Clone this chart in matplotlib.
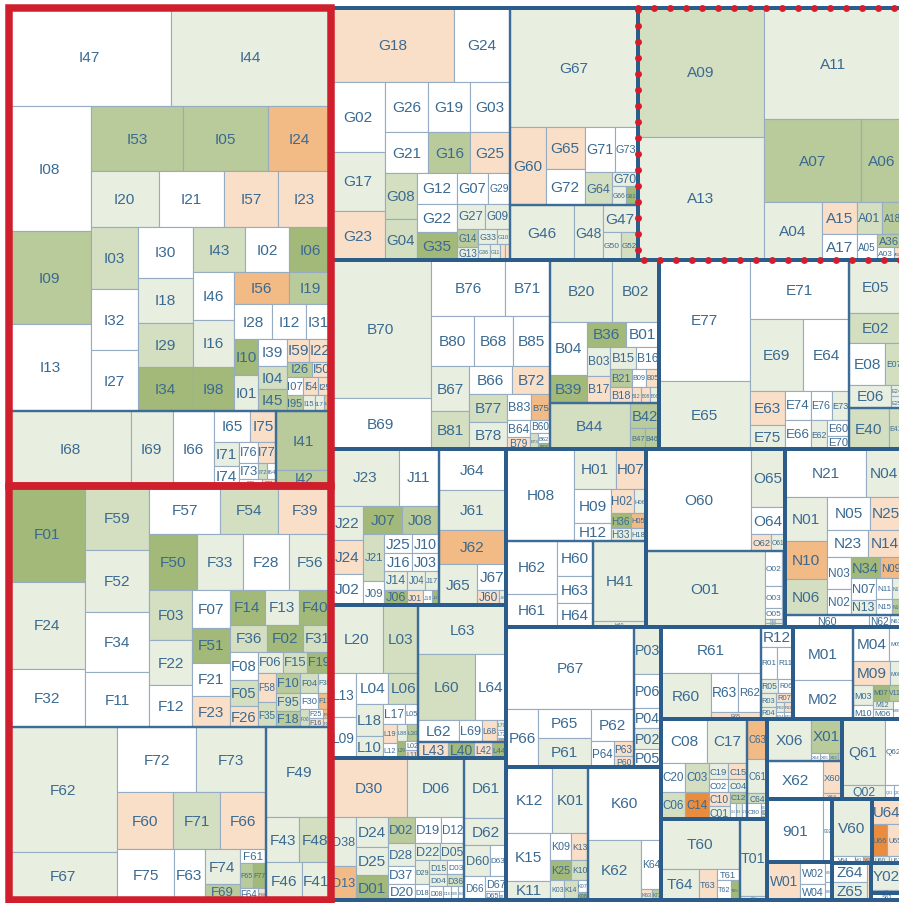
"""Nested treemap of codes grouped by letter, tiled row by row from the sizes."""
import matplotlib
matplotlib.use("Agg")
import matplotlib.pyplot as plt
from matplotlib.patches import Rectangle
from matplotlib.textpath import TextPath
from matplotlib.font_manager import FontProperties

# ---------------------------------------------------------------- data
# each list is one sub-block: (code, size, colour class)
I_a = [("I47", 15000, "w"), ("I44", 14900, "g1"), ("I08", 9640, "w"), ("I09", 7110, "g3"),
       ("I13", 6715, "w"), ("I53", 5670, "g3"), ("I05", 5170, "g3"), ("I24", 3840, "o2"),
       ("I20", 3630, "g1"), ("I21", 3465, "w"), ("I57", 2915, "o1"), ("I23", 2805, "o1"),
       ("I03", 2760, "g2"), ("I32", 2760, "w"), ("I27", 2714, "w"), ("I30", 2600, "w"),
       ("I18", 2330, "g1"), ("I29", 2280, "g2"), ("I34", 2280, "g4"), ("I43", 2244, "g2"),
       ("I02", 1848, "w"), ("I06", 1804, "g4"), ("I46", 1840, "w"), ("I16", 1840, "g1"),
       ("I98", 1720, "g4"), ("I56", 1640, "o2"), ("I19", 1270, "g3"), ("I28", 1260, "w"),
       ("I12", 1120, "w"), ("I31", 816, "w"), ("I10", 805, "g4"), ("I01", 805, "g1"),
       ("I39", 728, "w"), ("I04", 644, "g2"), ("I45", 588, "g3"), ("I59", 484, "o1"),
       ("I22", 462, "o1"), ("I26", 375, "g3"), ("I50", 270, "o1"), ("I07", 288, "w"),
       ("I95", 240, "g3"), ("I54", 252, "o1"), ("I25", 234, "o1"), ("I15", 165, "g1"),
       ("I17", 135, "g1"), ("I11", 60, "o2"), ("I14", 45, "g1")]
I_b = [("I68", 8700, "g1"), ("I69", 3000, "g1"), ("I66", 2925, "w"), ("I65", 1064, "w"),
       ("I75", 756, "o1"), ("I71", 598, "g1"), ("I74", 483, "w"), ("I76", 378, "w"),
       ("I77", 378, "o1"), ("I73", 300, "w"), ("I72", 140, "g2"), ("I64", 140, "w"),
       ("I79", 150, "w"), ("I78", 100, "o1")]
I_c = [("I41", 3070, "g3"), ("I42", 830, "g3")]

F_a = [("F01", 6880, "g4"), ("F24", 6290, "g1"), ("F32", 4220, "w"), ("F59", 3840, "g2"),
       ("F52", 3720, "g1"), ("F34", 3660, "w"), ("F11", 3350, "w"), ("F57", 3170, "w"),
       ("F54", 2580, "g2"), ("F39", 2350, "o1"), ("F50", 2530, "g4"), ("F33", 2475, "g1"),
       ("F28", 2420, "w"), ("F56", 2255, "g1"), ("F03", 2010, "g2"), ("F22", 1800, "g1"),
       ("F12", 1680, "w"), ("F07", 1370, "w"), ("F51", 1260, "g4"), ("F21", 1180, "w"),
       ("F23", 1150, "o1"), ("F14", 1156, "g4"), ("F13", 1120, "g1"), ("F40", 1054, "g4"),
       ("F36", 936, "g2"), ("F02", 910, "g4"), ("F31", 702, "g2"), ("F08", 756, "w"),
       ("F05", 675, "g2"), ("F26", 567, "o1"), ("F06", 504, "g1"), ("F15", 504, "g2"),
       ("F19", 483, "g4"), ("F58", 504, "o1"), ("F35", 450, "g2"), ("F10", 437, "g3"),
       ("F95", 414, "g2"), ("F18", 368, "g3"), ("F04", 323, "g2"), ("F38", 247, "g1"),
       ("F30", 272, "w"), ("F17", 208, "o2"), ("F00", 162, "g2"), ("F25", 117, "w"),
       ("F16", 117, "o1"), ("F09", 72, "o2"), ("F20", 72, "o1")]
F_b = [("F62", 12790, "g1"), ("F67", 4890, "g1"), ("F72", 4790, "w"), ("F73", 4284, "g1"),
       ("F60", 3024, "o1"), ("F71", 2520, "g2"), ("F66", 2520, "o1"), ("F75", 2700, "w"),
       ("F63", 1500, "w"), ("F74", 1156, "g1"), ("F69", 510, "g3"), ("F61", 338, "w"),
       ("F65", 312, "g3"), ("F77", 312, "g4"), ("F64", 216, "w"), ("F68", 96, "o1")]
F_c = [("F49", 5456, "g1"), ("F43", 1395, "g1"), ("F48", 1395, "g2"), ("F46", 1258, "g1"),
       ("F41", 1036, "g1")]

G_a = [("G18", 8600, "o1"), ("G24", 3850, "w"), ("G02", 3550, "w"), ("G17", 3020, "g1"),
       ("G23", 2490, "o1"), ("G26", 2058, "w"), ("G19", 2009, "w"), ("G03", 1862, "w"),
       ("G21", 1680, "w"), ("G16", 1640, "g3"), ("G25", 1520, "o1"), ("G08", 1395, "g2"),
       ("G04", 1240, "g2"), ("G12", 1170, "w"), ("G07", 900, "w"), ("G29", 630, "w"),
       ("G22", 1092, "w"), ("G35", 1053, "g4"), ("G27", 648, "g1"), ("G09", 576, "g1"),
       ("G14", 360, "g3"), ("G13", 260, "g1"), ("G33", 270, "g1"), ("G10", 180, "g1"),
       ("G36", 176, "g1"), ("G11", 160, "g1"), ("G31", 72, "o1"), ("G32", 72, "o1")]
G_b = [("G67", 14400, "g1"), ("G60", 2664, "o1"), ("G65", 1560, "o1"), ("G72", 1326, "w"),
       ("G71", 1260, "w"), ("G73", 966, "w"), ("G64", 864, "g2"), ("G70", 364, "g1"),
       ("G66", 252, "g1"), ("G61", 216, "g4")]
G_c = [("G46", 3300, "g1"), ("G48", 1512, "g1"), ("G47", 858, "g1"), ("G50", 476, "g1"),
       ("G52", 448, "g2")]

A_a = [("A09", 15400, "g2"), ("A13", 14700, "g1"), ("A11", 14500, "g1"), ("A07", 7600, "g3"),
       ("A06", 3200, "g3"), ("A04", 3190, "g1"), ("A15", 1054, "o1"), ("A17", 850, "w"),
       ("A01", 775, "g2"), ("A18", 590, "g3"), ("A05", 500, "w"), ("A36", 312, "g3"),
       ("A03", 204, "w"), ("A02", 100, "o1")]

B_a = [("B70", 13000, "g1"), ("B69", 4800, "w"), ("B76", 3960, "w"), ("B71", 2365, "w"),
       ("B80", 2058, "w"), ("B68", 1862, "w"), ("B85", 1715, "w"), ("B67", 1628, "g1"),
       ("B81", 1369, "g2"), ("B66", 1134, "w"), ("B72", 972, "o1"), ("B77", 972, "g2"),
       ("B78", 972, "g1"), ("B83", 600, "w"), ("B75", 450, "o2"), ("B64", 374, "w"),
       ("B79", 264, "o1"), ("B60", 240, "w"), ("B73", 130, "g2"), ("B62", 110, "w"),
       ("B63", 60, "g4")]
B_b = [("B20", 3650, "g1"), ("B02", 2700, "g1"), ("B04", 1887, "w"), ("B39", 1000, "g4"),
       ("B36", 912, "g4"), ("B01", 792, "w"), ("B03", 644, "g1"), ("B17", 598, "o1"),
       ("B15", 525, "g1"), ("B16", 483, "w"), ("B21", 378, "g3"), ("B18", 315, "o1"),
       ("B09", 252, "w"), ("B05", 234, "o1"), ("B12", 135, "o1"), ("B08", 135, "o1"),
       ("B06", 135, "g1")]
B_c = [("B44", 3500, "g2"), ("B42", 675, "g3"), ("B47", 294, "g3"), ("B46", 273, "g3")]

E_a = [("E77", 10400, "w"), ("E65", 5900, "g1"), ("E71", 5510, "w"), ("E69", 3621, "g1"),
       ("E64", 3124, "w"), ("E63", 1089, "o1"), ("E75", 792, "g1"), ("E74", 700, "w"),
       ("E66", 725, "w"), ("E76", 560, "w"), ("E73", 476, "g1"), ("E62", 464, "g1"),
       ("E60", 336, "w"), ("E70", 273, "w")]
E_b = [("E05", 2650, "g1"), ("E02", 1480, "g2"), ("E08", 1435, "w"), ("E07", 656, "g2"),
       ("E06", 920, "g1"), ("E24", 121, "g1"), ("E25", 121, "g1")]
E_c = [("E40", 1520, "g2"), ("E41", 520, "g2")]

J_a = [("J23", 3650, "g1"), ("J11", 2114, "w"), ("J22", 1054, "g1"), ("J24", 1023, "o1"),
       ("J02", 961, "w"), ("J07", 1036, "g4"), ("J08", 980, "g3"), ("J21", 920, "g2"),
       ("J09", 480, "w"), ("J25", 513, "w"), ("J10", 475, "w"), ("J16", 459, "w"),
       ("J03", 425, "w"), ("J14", 418, "g1"), ("J04", 323, "g1"), ("J17", 247, "g1"),
       ("J06", 330, "g4"), ("J01", 225, "o1"), ("J18", 135, "w"), ("J19", 90, "g4")]
J_b = [("J64", 2650, "w"), ("J61", 2535, "g1"), ("J62", 2210, "o2"), ("J65", 1480, "g1"),
       ("J67", 700, "w"), ("J60", 315, "o1"), ("J66", 105, "g1")]

L_a = [("L20", 3350, "g1"), ("L03", 2278, "g2"), ("L13", 1032, "w"), ("L09", 984, "w"),
       ("L04", 930, "w"), ("L06", 870, "g2"), ("L18", 832, "g1"), ("L10", 572, "g1"),
       ("L17", 420, "w"), ("L05", 260, "w"), ("L19", 247, "o1"), ("L12", 195, "w"),
       ("L88", 160, "g1"), ("L30", 176, "g3"), ("L39", 144, "g4"), ("L02", 117, "w"),
       ("L11", 104, "o1")]
L_b = [("L63", 4080, "g1"), ("L60", 3520, "g2"), ("L64", 1920, "w"), ("L62", 858, "w"),
       ("L69", 484, "w"), ("L68", 330, "o1"), ("L70", 90, "g1"), ("L72", 70, "w"),
       ("L71", 38, "o2")]
L_c = [("L43", 464, "o1"), ("L40", 400, "g4"), ("L42", 272, "o1"), ("L44", 224, "g4")]

D_a = [("D30", 4215, "o1"), ("D06", 3166, "g1"), ("D38", 1176, "g1"), ("D13", 816, "o2"),
       ("D24", 900, "g1"), ("D25", 840, "g1"), ("D01", 750, "g4"), ("D02", 650, "g3"),
       ("D19", 650, "w"), ("D12", 572, "w"), ("D28", 575, "g1"), ("D37", 450, "w"),
       ("D20", 400, "w"), ("D22", 408, "g1"), ("D05", 391, "g1"), ("D29", 336, "g1"),
       ("D18", 224, "w"), ("D15", 238, "g1"), ("D03", 224, "w"), ("D04", 195, "g1"),
       ("D36", 200, "g2"), ("D08", 180, "w"), ("D16", 100, "w"), ("D09", 100, "w"),
       ("D10", 80, "w")]
D_b = [("D61", 2378, "g1"), ("D62", 1066, "g1"), ("D60", 750, "g1"), ("D63", 480, "w"),
       ("D66", 460, "w"), ("D67", 315, "w"), ("D65", 120, "w"), ("D64", 60, "w")]

H_a = [("H08", 5900, "w"), ("H01", 1558, "g1"), ("H07", 1140, "o1"), ("H09", 1152, "w"),
       ("H12", 612, "w"), ("H02", 529, "o1"), ("H06", 276, "g1"), ("H36", 280, "g4"),
       ("H05", 210, "o2"), ("H33", 240, "g1"), ("H18", 180, "g1")]
H_b = [("H62", 2550, "w"), ("H61", 1600, "w"), ("H60", 1190, "w"), ("H63", 910, "w"),
       ("H64", 805, "w")]
H_c = [("H41", 4000, "g1"), ("H40", 300, "g1")]

O_a = [("O60", 10150, "w"), ("O65", 1870, "g1"), ("O64", 850, "w"), ("O62", 320, "o1"),
       ("O61", 224, "g1")]
O_b = [("O01", 8580, "g1"), ("O02", 578, "w"), ("O03", 374, "w"), ("O05", 170, "w"),
       ("O04", 70, "g1"), ("O06", 70, "g1"), ("O08", 200, "o1")]

N_a = [("N21", 3680, "w"), ("N04", 1610, "g1"), ("N01", 1763, "g1"), ("N10", 1517, "o2"),
       ("N06", 1394, "g2"), ("N05", 1344, "w"), ("N25", 992, "o1"), ("N23", 1040, "w"),
       ("N14", 858, "o1"), ("N03", 713, "w"), ("N02", 575, "w"), ("N34", 609, "g4"),
       ("N09", 441, "o2"), ("N07", 525, "w"), ("N13", 350, "g1"), ("N11", 300, "w"),
       ("N15", 225, "w"), ("N17", 200, "g1"), ("N18", 150, "g3")]
N_b = [("N60", 996, "w"), ("N62", 240, "w"), ("N63", 144, "w")]

P_a = [("P67", 9810, "w"), ("P66", 1710, "w"), ("P65", 1479, "w"), ("P61", 1428, "g1"),
       ("P62", 1312, "w"), ("P64", 550, "w"), ("P63", 285, "o1"), ("P60", 190, "o1")]
P_b = [("P03", 1215, "g1"), ("P06", 891, "w"), ("P04", 540, "w"), ("P02", 540, "g1"),
       ("P05", 459, "w")]

K_a = [("K12", 2904, "w"), ("K01", 2244, "g1"), ("K15", 1974, "w"), ("K11", 798, "g1"),
       ("K09", 520, "w"), ("K13", 416, "o1"), ("K25", 400, "g4"), ("K10", 320, "g2"),
       ("K03", 260, "g1"), ("K14", 260, "g2"), ("K07", 120, "w"), ("K08", 80, "g4")]
K_b = [("K60", 5041, "w"), ("K62", 3009, "g1"), ("K64", 940, "w"), ("K63", 121, "o1"),
       ("K77", 99, "g3")]

R_a = [("R61", 4300, "w"), ("R60", 2150, "g1"), ("R63", 1030, "w"), ("R62", 850, "w"),
       ("R65", 308, "o1")]
R_b = [("R12", 594, "w"), ("R01", 493, "w"), ("R11", 464, "w"), ("R05", 234, "g1"),
       ("R06", 195, "w"), ("R03", 195, "g1"), ("R04", 165, "g1"), ("R07", 144, "o1"),
       ("R02", 81, "g1"), ("R13", 81, "o1"), ("R14", 50, "w"), ("R09", 50, "w")]

M_a = [("M01", 3050, "w"), ("M02", 2200, "w")]
M_b = [("M04", 1150, "w"), ("M05", 403, "w"), ("M09", 840, "o1"), ("M08", 273, "g1"),
       ("M03", 368, "g1"), ("M10", 240, "w"), ("M07", 234, "g4"), ("V11", 198, "g3"),
       ("M12", 153, "g1"), ("M06", 187, "w"), ("M99", 160, "w")]

C_a = [("C08", 1950, "w"), ("C17", 1680, "g1"), ("C20", 640, "w"), ("C06", 620, "g2"),
       ("C03", 640, "g2"), ("C14", 620, "o3"), ("C19", 285, "g1"), ("C15", 285, "o1"),
       ("C02", 247, "w"), ("C04", 247, "g1"), ("C10", 280, "o1"), ("C01", 260, "g1"),
       ("C12", 162, "g3"), ("C16", 90, "w"), ("C18", 90, "g1"), ("C21", 90, "w")]
C_b = [("C63", 760, "o2"), ("C61", 650, "g1"), ("C64", 190, "g2"), ("C80", 198, "w"),
       ("C81", 40, "w"), ("C82", 30, "o1"), ("C83", 30, "g1")]

T_a = [("T60", 3650, "g1"), ("T64", 1122, "g1"), ("T63", 528, "o1"), ("T61", 240, "w"),
       ("T62", 273, "w"), ("T65", 168, "g4")]
T_b = [("T01", 2020, "g1"), ("T06", 100, "g1")]

X_a = [("X06", 1760, "g1"), ("X01", 1000, "g3"), ("X04", 70, "w"), ("X05", 70, "w"),
       ("X03", 70, "g3"), ("X02", 30, "o2")]
X_b = [("X62", 1990, "w"), ("X60", 560, "o1"), ("X64", 120, "o1")]

Q_a = [("Q61", 2700, "g1"), ("Q62", 1100, "w"), ("Q02", 588, "g1"), ("Q01", 112, "w"),
       ("Q03", 112, "w")]
N9_a = [("901", 3330, "w"), ("902", 540, "w")]
W_a = [("W01", 1152, "o1"), ("W02", 525, "w"), ("W04", 375, "w"), ("W03", 130, "w"),
       ("W05", 122, "w")]
V_a = [("V60", 2090, "g1"), ("V64", 147, "w"), ("V61", 56, "w"), ("V62", 56, "o2")]
U_a = [("U64", 720, "o1"), ("U66", 470, "o3"), ("U65", 430, "o1"), ("U60", 119, "g1"),
       ("U61", 84, "w")]
Z_a = [("Z64", 630, "w"), ("Z65", 595, "g1"), ("Z66", 144, "o1")]
Y_a = [("Y02", 780, "g1"), ("Y01", 100, "w")]
S_a = [("S63", 200, "w")]

# ---------------------------------------------------------------- layout
# row structure of the tiling: "r3" = next 3 items side by side in a strip
# across the top, "c3" = next 3 items stacked in a strip down the left
GROUPS = [
    ("I", "red", "r1 c1 c1", [(I_a, "r2 c3 r3 r4 c3 c4 r3 c3 r2 r3 c2 c3 r2 r2 c2 r2 r4"),
                              (I_b, "c1 c1 c1 r2 c2 r2 r3 r2"), (I_c, "r1 r1")]),
    ("F", "red", "r1 c1 c1", [(F_a, "c3 c4 r3 r4 c3 c4 r3 r3 c3 r3 c2 c3 r2 r2 c1 c2 c2"),
                              (F_b, "c2 r2 r3 c1 c1 c2 r1 r2 r2"), (F_c, "r1 r2 r2")]),
    ("G", None, "c1 r1 r1", [(G_a, "r2 c3 r3 r3 c2 r3 c2 r2 c2 r2 r4"),
                             (G_b, "r1 c1 c2 r2 c1 r1 r2"), (G_c, "c1 c1 r1 r2")]),
    ("A", "dots", "r1", [(A_a, "c2 r1 r2 c1 c2 r2 c1 r1 r2")]),
    ("B", None, "c1 r1 r1", [(B_a, "c2 r2 r3 c2 r2 c2 r2 c2 r1 c1 c2"),
                             (B_b, "r2 c2 r2 c2 r2 c2 r2 r3"), (B_c, "c1 r1 r2")]),
    ("E", None, "c1 r1 r1", [(E_a, "c2 r1 r2 c2 c2 r2 c1 c2"), (E_b, "r1 r1 r2 c1 c2"),
                             (E_c, "c1 c1")]),
    ("J", None, "c1 c1", [(J_a, "r2 c3 r2 c2 r2 r2 r3 r4"), (J_b, "r1 r1 r1 c1 r1 r2")]),
    ("L", None, "c1 r1 r1", [(L_a, "r2 c2 r2 c2 r2 c2 r2 c1 c2"),
                             (L_b, "r1 r2 c1 c1 c1 c3"), (L_c, "c1 c1 c1 c1")]),
    ("D", None, "c1 c1", [(D_a, "r2 c2 c3 r3 c3 r2 c2 r2 r2 r4"),
                          (D_b, "r1 r1 r2 c1 r1 r2")]),
    ("H", None, "r1 c1 c1", [(H_a, "c1 r2 c2 r2 r2 r2"), (H_b, "c2 c3"), (H_c, "r1 r1")]),
    ("O", None, "r1 r1", [(O_a, "c1 r1 r1 r2"), (O_b, "c1 c5 c1")]),
    ("N", None, "r1 r1", [(N_a, "r2 c3 r2 r2 c2 r2 c2 c2 c2"), (N_b, "c1 c1 c1")]),
    ("P", None, "c1 c1", [(P_a, "r1 c1 c2 r1 c1 c2"), (P_b, "r1 r1 r1 r1 r1")]),
    ("K", None, "c1 c1", [(K_a, "r2 c2 r2 r2 c1 c1 c2"), (K_b, "r1 c1 r1 r2")]),
    ("R", None, "c1 c1", [(R_a, "r1 c1 r2 r1"), (R_b, "r1 r2 r2 c2 r1 r2 r2")]),
    ("M", None, "c1 c1", [(M_a, "r1 r1"), (M_b, "r2 r2 c2 r2 c2 c1")]),
    ("C", None, "c1 c1", [(C_a, "r2 c2 c2 r2 r2 c2 r1 r3"), (C_b, "r1 r1 r1 c1 c3")]),
    ("T", None, "c1 c1", [(T_a, "r1 c1 c1 r1 r2"), (T_b, "r1 r1")]),
    ("X", None, "r1 r1", [(X_a, "c1 r1 r4"), (X_b, "c1 c2")]),
    ("Q", None, "r1", [(Q_a, "r2 r3")]),
    ("9", None, "r1", [(N9_a, "c1 c1")]),
    ("W", None, "r1", [(W_a, "c1 c2 c2")]),
    ("V", None, "r1", [(V_a, "r1 r3")]),
    ("U", None, "r1", [(U_a, "r1 r2 r2")]),
    ("Z", None, "r1", [(Z_a, "c2 c1")]),
    ("Y", None, "r1", [(Y_a, "r1 r1")]),
    ("S", None, "r1", [(S_a, "r1")]),
]
TOP_ROWS = "c2 r2 r2 c3 r3 c2 r2 c2 r2 c2 r2 c1 r1 r1"

FILL = {"w": "#ffffff", "g1": "#e9efe0", "g2": "#d4dfc2", "g3": "#b9ca9b",
        "g4": "#a2b97a", "o1": "#fadfc8", "o2": "#f2ba85", "o3": "#ea8c3e"}

ROOT = (9, 9, 902, 901)     # the tree runs a little past the right edge
PX = 0.72                   # points per pixel at dpi 100


def tile(values, rect, rows):
    """Cut rect into strips following `rows`; strip and cell sizes follow values."""
    x0, y0, x1, y1 = rect
    out, i = [], 0
    left = float(sum(values))
    tokens = rows.split()
    for k, tok in enumerate(tokens):
        n = int(tok[1:])
        part = values[i:i + n]
        s = float(sum(part))
        last = k == len(tokens) - 1
        if tok[0] == "r":
            h = (y1 - y0) if last else (y1 - y0) * s / left
            xx = x0
            for v in part:
                w = (x1 - x0) * v / s
                out.append((xx, y0, xx + w, y0 + h))
                xx += w
            y0 += h
        else:
            w = (x1 - x0) if last else (x1 - x0) * s / left
            yy = y0
            for v in part:
                h = (y1 - y0) * v / s
                out.append((x0, yy, x0 + w, yy + h))
                yy += h
            x0 += w
        left -= s
        i += n
    return out


fig = plt.figure(figsize=(8.99, 9.04), dpi=100)
ax = fig.add_axes([0, 0, 1, 1])
ax.set_xlim(0, 899)
ax.set_ylim(904, 0)
ax.axis("off")

font = FontProperties(family="Liberation Sans")


def frame(r, color, lw_px, z, **kw):
    ax.add_patch(Rectangle((r[0], r[1]), r[2] - r[0], r[3] - r[1], fill=False,
                           edgecolor=color, linewidth=lw_px * PX, zorder=z, **kw))


group_vals = [sum(v for sub, _ in subs for _, v, _ in sub) for _, _, _, subs in GROUPS]
for (gname, mark, sub_rows, subs), grect in zip(GROUPS, tile(group_vals, ROOT, TOP_ROWS)):
    sub_vals = [sum(v for _, v, _ in sub) for sub, _ in subs]
    for (sub, rows), srect in zip(subs, tile(sub_vals, grect, sub_rows)):
        for (code, _, cls), (a, b, c, d) in zip(sub, tile([v for _, v, _ in sub], srect, rows)):
            ax.add_patch(Rectangle((a, b), c - a, d - b, facecolor=FILL[cls],
                                   edgecolor="#95acc2", linewidth=1.1 * PX, zorder=1))
            tw = TextPath((0, 0), code, size=1, prop=font).get_extents().width
            fs = min(15.4, 0.85 * (c - a) / tw, 0.85 * (d - b))
            if fs >= 2.5:
                ax.text((a + c) / 2, (b + d) / 2, code, ha="center", va="center",
                        fontproperties=font, fontsize=fs * PX, color="#3a6a92",
                        zorder=5, clip_on=True)
        if len(subs) > 1:
            frame(srect, "#3c6c97", 2.2, 3)
    frame(grect, "#2c5d8a", 4.0, 4)
    if mark == "red":
        frame(grect, "#d01f2c", 7.5, 6)
    elif mark == "dots":
        frame(grect, "#d01f2c", 7.0, 6, linestyle=(0, (0.001, 16 / 7.0)),
              capstyle="round")

fig.savefig("out.png", dpi=100)
